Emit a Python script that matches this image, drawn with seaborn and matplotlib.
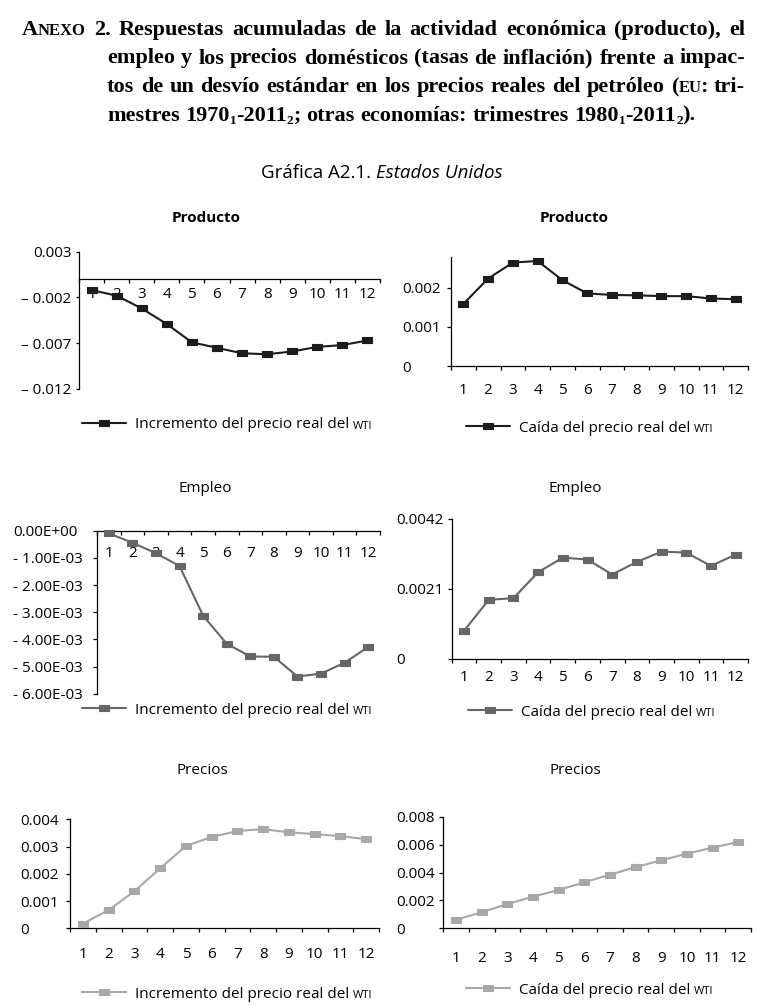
import numpy as np
import matplotlib
matplotlib.use("Agg")
import matplotlib.pyplot as plt
from matplotlib.path import Path
import seaborn as sns

# === Data ===
periods = list(range(1, 13))

producto_sube = [-0.0012, -0.0018, -0.0032, -0.0049, -0.0069, -0.0075,
                 -0.0081, -0.0082, -0.0079, -0.0074, -0.0072, -0.0067]
producto_baja = [0.00159, 0.00224, 0.00265, 0.00269, 0.00220, 0.00186,
                 0.00182, 0.00181, 0.00179, 0.00179, 0.00173, 0.00171]
empleo_sube = [-0.00010, -0.00044, -0.00083, -0.00130, -0.00313, -0.00416,
               -0.00463, -0.00464, -0.00537, -0.00526, -0.00486, -0.00428]
empleo_baja = [0.00084, 0.00177, 0.00182, 0.00260, 0.00304, 0.00298,
               0.00253, 0.00291, 0.00322, 0.00319, 0.00279, 0.00313]
precios_sube = [0.00017, 0.00067, 0.00136, 0.00220, 0.00302, 0.00335,
                0.00357, 0.00364, 0.00352, 0.00346, 0.00338, 0.00327]
precios_baja = [0.00062, 0.00115, 0.00174, 0.00227, 0.00275, 0.00330,
                0.00384, 0.00439, 0.00487, 0.00535, 0.00578, 0.00619]

yticks_p1 = [0.003, -0.002, -0.007, -0.012]
ylabels_p1 = ["0.003", "\u2013 0.002", "\u2013 0.007", "\u2013 0.012"]
yticks_p2 = [0, 0.001, 0.002]
ylabels_p2 = ["0", "0.001", "0.002"]
yticks_p3 = [0, -0.001, -0.002, -0.003, -0.004, -0.005, -0.006]
ylabels_p3 = ["0.00E+00", "- 1.00E-03", "- 2.00E-03", "- 3.00E-03",
              "- 4.00E-03", "- 5.00E-03", "- 6.00E-03"]
yticks_p4 = [0, 0.0021, 0.0042]
ylabels_p4 = ["0", "0.0021", "0.0042"]
yticks_p5 = [0, 0.001, 0.002, 0.003, 0.004]
ylabels_p5 = ["0", "0.001", "0.002", "0.003", "0.004"]
yticks_p6 = [0, 0.002, 0.004, 0.006, 0.008]
ylabels_p6 = ["0", "0.002", "0.004", "0.006", "0.008"]

LEG_SUBE = "Incremento del precio real del"
LEG_BAJA = "Caída del precio real del"

# === Style ===
sns.set_style("ticks")
plt.rcParams["font.family"] = ["Open Sans", "DejaVu Sans"]
plt.rcParams.update({
    "axes.edgecolor": "black", "xtick.color": "black", "ytick.color": "black",
    "text.color": "black", "axes.linewidth": 0.9,
    "xtick.labelsize": 11, "ytick.labelsize": 11,
})

W, H = 764, 1006
fig = plt.figure(figsize=(W / 100, H / 100), dpi=100)
renderer = fig.canvas.get_renderer()


def px(x, y):
    return x / W, 1 - y / H


def text_width(s, **kw):
    t = fig.text(0, 0, s, **kw)
    w = t.get_window_extent(renderer).width
    t.remove()
    return w


# --- Heading (justified serif block) ---
HEAD = dict(family=["Liberation Serif", "DejaVu Serif"], weight="bold")
L, S, B, SUB = 16, 12, 9.5, 4


def plain(s):
    return [[(w, L, 0, 0)] for w in s.split()]


head_lines = [
    ([[("A", L, 0, 0), ("NEXO", S, 0, 0)], [("2.", L, 0, 0)]]
     + plain("Respuestas acumuladas de la actividad económica (producto), el"), 35, 22, 745),
    (plain("empleo y los precios domésticos (tasas de inflación) frente a impac-"), 63.5, 107, 745),
    (plain("tos de un desvío estándar en los precios reales del petróleo")
     + [[("(", L, 0, 0), ("EU", S, 0, 0), (":", L, 0, -2)], [("tri-", L, 0, 0)]], 92, 107, 745),
    ([[("mestres", L, 0, 0)],
      [("1970", L, 0, 0), ("1", B, SUB, 0), ("-2011", L, 0, 0), ("2", B, SUB, 0), (";", L, 0, 0)]]
     + plain("otras economías: trimestres")
     + [[("1980", L, 0, 0), ("1", B, SUB, 0), ("-2011", L, 0, 0), ("2", B, SUB, 0), (").", L, 0, 0)]],
     120.5, 107, None),
]

for words, y, x0, x1 in head_lines:
    widths = [sum(text_width(s, fontsize=fs, **HEAD) + dx for s, fs, dy, dx in w) for w in words]
    if x1 is None:
        gap = 0.25 * L * 100 / 72
    else:
        gap = (x1 - x0 - sum(widths)) / (len(words) - 1)
    x = x0
    for word, w in zip(words, widths):
        xx = x
        for s, fs, dy, dx in word:
            xx += dx
            t = fig.text(*px(xx, y + dy), s, fontsize=fs, va="baseline", **HEAD)
            xx += t.get_window_extent(renderer).width
        x += w + gap

# --- Subtitle ---
sub_a, sub_b = "Gráfica A2.1. ", "Estados Unidos"
wa = text_width(sub_a, fontsize=13.5)
wb = text_width(sub_b, fontsize=13.5, style="italic")
sx = 382 - (wa + wb) / 2
fig.text(*px(sx, 178), sub_a, fontsize=13.5, va="baseline")
fig.text(*px(sx + wa, 178), sub_b, fontsize=13.5, style="italic", va="baseline")

# --- Panels ---
NEGRO, GRIS, CLARO = "#1c1c1c", "#666666", "#a8a8a8"
MARK = Path([(-1, -0.72), (1, -0.72), (1, 0.72), (-1, 0.72), (-1, -0.72)], closed=True)

panels = [
    dict(vals=producto_sube, color=NEGRO, title="Producto", bold=True, leg=LEG_SUBE,
         rect=(79, 251.7, 380, 389), ylim=(-0.012, 0.003), ticks=yticks_p1, labels=ylabels_p1,
         zero=True, left_lab=None, xpad=5.5, tpos=(206, 218), lpos=(82, 425)),
    dict(vals=producto_baja, color=NEGRO, title="Producto", bold=True, leg=LEG_BAJA,
         rect=(451, 256.7, 748, 366), ylim=(0, 0.0028), ticks=yticks_p2, labels=ylabels_p2,
         zero=False, left_lab=402.7, xpad=12, tpos=(574, 218), lpos=(466, 428)),
    dict(vals=empleo_sube, color=GRIS, title="Empleo", bold=False, leg=LEG_SUBE,
         rect=(97, 530.7, 380, 693.7), ylim=(-0.006, 0), ticks=yticks_p3, labels=ylabels_p3,
         zero=True, left_lab=13.3, xpad=11, tpos=(205, 488), lpos=(82, 710)),
    dict(vals=empleo_baja, color=GRIS, title="Empleo", bold=False, leg=LEG_BAJA,
         rect=(451.7, 519, 748, 658.7), ylim=(0, 0.0042), ticks=yticks_p4, labels=ylabels_p4,
         zero=False, left_lab=396.7, xpad=8, tpos=(575, 488), lpos=(468, 712)),
    dict(vals=precios_sube, color=CLARO, title="Precios", bold=False, leg=LEG_SUBE,
         rect=(70, 819.3, 379, 928.3), ylim=(0, 0.004), ticks=yticks_p5, labels=ylabels_p5,
         zero=False, left_lab=20, xpad=13.7, tpos=(202, 770), lpos=(82, 994)),
    dict(vals=precios_baja, color=CLARO, title="Precios", bold=False, leg=LEG_BAJA,
         rect=(443.3, 816.7, 751, 928.3), ylim=(0, 0.008), ticks=yticks_p6, labels=ylabels_p6,
         zero=False, left_lab=396, xpad=16.5, tpos=(575, 770), lpos=(466, 990)),
]

axes = []
for p in panels:
    l, t, r, b = p["rect"]
    ax = fig.add_axes([l / W, 1 - b / H, (r - l) / W, (b - t) / H])
    axes.append(ax)
    c = p["color"]
    sns.lineplot(x=periods, y=p["vals"], ax=ax, color=c, linewidth=1.5,
                 marker=MARK, markersize=6.5, markerfacecolor=c, markeredgecolor=c,
                 markeredgewidth=0.8, label=p["leg"], zorder=3, clip_on=False)

    ax.set_xlim(0.5, 12.5)
    ax.set_xticks(periods)
    ax.set_xticks(np.arange(0.5, 13, 1), minor=True)
    ax.tick_params(axis="x", which="major", length=0, pad=p["xpad"])
    ax.tick_params(axis="x", which="minor", length=3, width=0.9, direction="out")

    ax.set_ylim(*p["ylim"])
    ax.set_yticks(p["ticks"], p["labels"])
    ax.yaxis.set_minor_locator(plt.NullLocator())
    if p["left_lab"] is None:
        ax.tick_params(axis="y", length=2.5, width=0.9, pad=2.8)
    else:
        ax.tick_params(axis="y", length=3, width=0.9, pad=(l - p["left_lab"]) * 0.72 - 3)
        plt.setp(ax.get_yticklabels(), ha="left")
    ax.set_xlabel("")
    ax.set_ylabel("")

    sns.despine(ax=ax)
    if p["zero"]:
        ax.spines["bottom"].set_position(("data", 0))

    fig.text(*px(*p["tpos"]), p["title"], ha="center", va="center", fontsize=11,
             weight="bold" if p["bold"] else "normal")

    leg = ax.legend(loc="center left", bbox_to_anchor=px(*p["lpos"]),
                    bbox_transform=fig.transFigure, frameon=False, borderpad=0,
                    borderaxespad=0, handlelength=2.9, handletextpad=0.55, fontsize=11)
    ax.annotate("WTI", xy=(1, 0), xycoords=leg.get_texts()[0], xytext=(3, 0.5),
                textcoords="offset points", fontsize=8, va="bottom", ha="left",
                annotation_clip=False, zorder=10)

fig.savefig("out.png", dpi=100)

# quick check of y label placement
for ax in axes:
    bb = [lab.get_window_extent(renderer) for lab in ax.get_yticklabels()]
    print(round(ax.get_position().x0 * W, 1), [(round(b.x0, 1), round(b.x1, 1)) for b in bb])
print("saved out.png")
